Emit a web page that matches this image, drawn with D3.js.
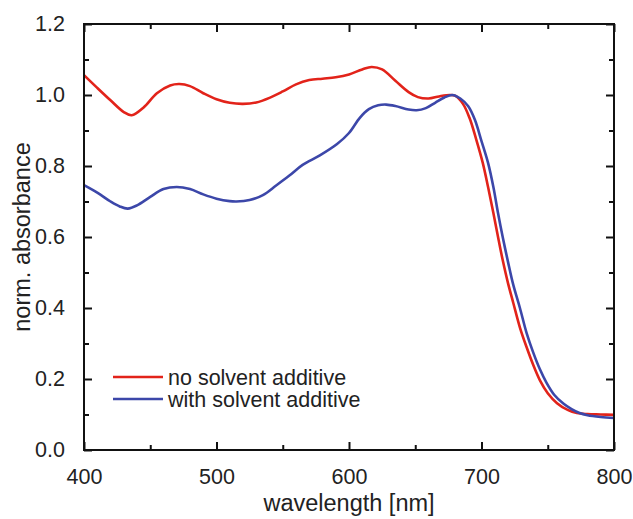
<!DOCTYPE html>
<html>
<head>
<meta charset="utf-8">
<script src="https://cdn.jsdelivr.net/npm/d3@7"></script>
<style>
  body { margin: 0; background: #fff; }
  text { font-family: "Liberation Sans", Arial, sans-serif; fill: #222; }
</style>
</head>
<body>
<div id="chart"></div>
<script>
// wavelength [nm] and normalised absorbance
const wlNoAdd = [400, 410, 420, 430, 436, 445, 455, 465, 472, 480, 490, 500, 510, 520, 530, 540, 550, 560, 570, 580, 590, 600, 610, 617, 625, 635, 645, 652, 660, 668, 676, 680, 686, 691, 696, 701, 705, 709, 713, 716, 720, 724, 729, 734, 739, 744, 750, 757, 765, 772, 780, 790, 800];
const absNoAdd = [1.056, 1.02, 0.985, 0.952, 0.943, 0.965, 1.005, 1.027, 1.031, 1.025, 1.005, 0.988, 0.978, 0.975, 0.979, 0.992, 1.01, 1.03, 1.042, 1.046, 1.05, 1.058, 1.072, 1.079, 1.072, 1.04, 1.008, 0.994, 0.99, 0.996, 1.0, 0.998, 0.975, 0.935, 0.875, 0.808, 0.74, 0.667, 0.59, 0.535, 0.47, 0.414, 0.345, 0.29, 0.24, 0.197, 0.16, 0.132, 0.113, 0.104, 0.101, 0.1, 0.099];

const wlAdd = [400, 410, 420, 427, 433, 440, 450, 460, 470, 480, 490, 500, 510, 515, 525, 535, 545, 555, 565, 578, 591, 600, 608, 615, 622, 628, 635, 645, 651, 658, 665, 672, 678, 684, 690, 695, 700, 705, 709, 712.5, 716, 720, 724, 729, 734, 739, 744, 749, 755, 762, 768, 774, 780, 790, 800];
const absAdd = [0.746, 0.725, 0.7, 0.686, 0.68, 0.689, 0.713, 0.735, 0.741, 0.735, 0.72, 0.708, 0.701, 0.7, 0.704, 0.718, 0.745, 0.773, 0.803, 0.83, 0.862, 0.893, 0.935, 0.96, 0.971, 0.973, 0.969, 0.959, 0.957, 0.963, 0.978, 0.993, 1.0, 0.99, 0.968, 0.93, 0.87, 0.808, 0.74, 0.667, 0.6, 0.53, 0.465, 0.4, 0.33, 0.275, 0.228, 0.19, 0.155, 0.13, 0.115, 0.104, 0.098, 0.093, 0.09];

const seriesNames = ['no solvent additive', 'with solvent additive'];
const seriesColors = ['#e2231a', '#3c47a9'];
const xTicks = [400, 500, 600, 700, 800];
const yTicks = [0.0, 0.2, 0.4, 0.6, 0.8, 1.0, 1.2];

const W = 633, H = 519;
const margin = { top: 24, right: 19, bottom: 69, left: 84 };
const width = W - margin.left - margin.right;
const height = H - margin.top - margin.bottom;

const svg = d3.select('#chart').append('svg')
  .attr('width', W)
  .attr('height', H);

const g = svg.append('g')
  .attr('transform', `translate(${margin.left},${margin.top})`);

const x = d3.scaleLinear().domain([400, 800]).range([0, width]);
const y = d3.scaleLinear().domain([0, 1.2]).range([height, 0]);

const xMinor = d3.range(450, 800, 100);
const yMinor = d3.range(0.1, 1.2, 0.2);

// axes: ticks point inward on all four sides, labels only left and bottom
const styleAxis = sel => {
  sel.select('.domain').remove();
  sel.selectAll('line').attr('stroke', '#111').attr('stroke-width', 2);
};

g.append('g').attr('transform', `translate(0,${height})`)
  .call(d3.axisBottom(x).tickValues(xTicks).tickSizeInner(-8).tickSizeOuter(0).tickPadding(19).tickFormat(d3.format('d')))
  .call(styleAxis)
  .selectAll('text').style('font-size', '21.5px').attr('fill', '#222');
g.append('g').attr('transform', `translate(0,${height})`)
  .call(d3.axisBottom(x).tickValues(xMinor).tickSizeInner(-5).tickSizeOuter(0).tickFormat(''))
  .call(styleAxis);
g.append('g')
  .call(d3.axisTop(x).tickValues(xTicks).tickSizeInner(-8).tickSizeOuter(0).tickFormat(''))
  .call(styleAxis);
g.append('g')
  .call(d3.axisTop(x).tickValues(xMinor).tickSizeInner(-5).tickSizeOuter(0).tickFormat(''))
  .call(styleAxis);

g.append('g')
  .call(d3.axisLeft(y).tickValues(yTicks).tickSizeInner(-8).tickSizeOuter(0).tickPadding(19).tickFormat(d3.format('.1f')))
  .call(styleAxis)
  .selectAll('text').style('font-size', '21.5px').attr('fill', '#222');
g.append('g')
  .call(d3.axisLeft(y).tickValues(yMinor).tickSizeInner(-5).tickSizeOuter(0).tickFormat(''))
  .call(styleAxis);
g.append('g').attr('transform', `translate(${width},0)`)
  .call(d3.axisRight(y).tickValues(yTicks).tickSizeInner(-8).tickSizeOuter(0).tickFormat(''))
  .call(styleAxis);
g.append('g').attr('transform', `translate(${width},0)`)
  .call(d3.axisRight(y).tickValues(yMinor).tickSizeInner(-5).tickSizeOuter(0).tickFormat(''))
  .call(styleAxis);

// curves
const line = d3.line()
  .x(d => x(d[0]))
  .y(d => y(d[1]))
  .curve(d3.curveCatmullRom.alpha(0.5));

const series = [
  d3.zip(wlNoAdd, absNoAdd),
  d3.zip(wlAdd, absAdd)
];

g.selectAll('path.curve')
  .data(series)
  .enter()
  .append('path')
  .attr('class', 'curve')
  .attr('d', line)
  .attr('fill', 'none')
  .attr('stroke', (d, i) => seriesColors[i])
  .attr('stroke-width', 2.6)
  .attr('stroke-linejoin', 'round');

// frame
g.append('rect')
  .attr('width', width)
  .attr('height', height)
  .attr('fill', 'none')
  .attr('stroke', '#111')
  .attr('stroke-width', 2);

// legend
const legend = g.append('g').attr('transform', 'translate(29,353)');
seriesNames.forEach((name, i) => {
  const row = legend.append('g').attr('transform', `translate(0,${i * 22})`);
  row.append('line')
    .attr('x1', 0).attr('x2', 50)
    .attr('stroke', seriesColors[i])
    .attr('stroke-width', 2.6);
  row.append('text')
    .attr('x', 55)
    .attr('dy', '0.35em')
    .style('font-size', '21.5px')
    .text(name);
});

// axis titles
svg.append('text')
  .attr('x', margin.left + width / 2)
  .attr('y', 511)
  .attr('text-anchor', 'middle')
  .style('font-size', '23.5px')
  .text('wavelength [nm]');

svg.append('text')
  .attr('transform', `translate(30,${margin.top + height / 2}) rotate(-90)`)
  .attr('text-anchor', 'middle')
  .style('font-size', '23.5px')
  .text('norm. absorbance');
</script>
</body>
</html>
